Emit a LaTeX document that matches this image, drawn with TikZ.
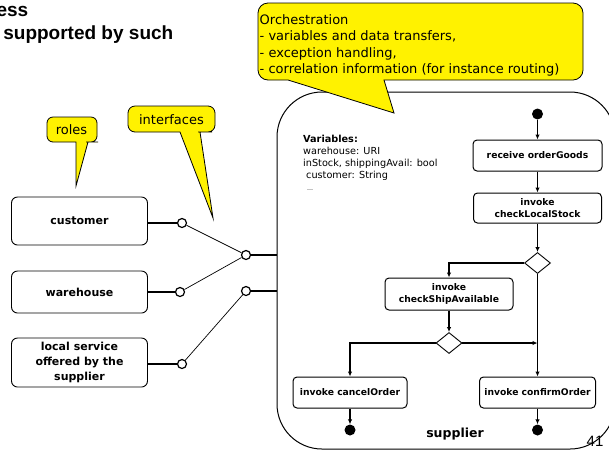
\documentclass[tikz,border=0pt]{standalone}
\usepackage{fontspec}
\setmainfont{DejaVu Sans}
\newfontfamily\headfont{Liberation Sans}
\usetikzlibrary{shapes.geometric,arrows.meta}
\begin{document}
\begin{tikzpicture}[x=1pt,y=-1pt,
  rolebox/.style={draw, rounded corners=6pt, line width=0.9pt, minimum width=136pt, inner sep=0pt,
    font=\fontsize{11}{15}\selectfont\bfseries, align=center},
  port/.style={circle, draw, fill=white, line width=1.2pt, minimum size=9pt, inner sep=0pt},
  act/.style={draw, rounded corners=4pt, line width=1pt, inner sep=0pt,
    font=\fontsize{9.2}{12.5}\selectfont\bfseries, align=center},
  choice/.style={diamond, draw, fill=white, line width=0.9pt, minimum width=26pt, minimum height=21pt, inner sep=0pt},
  dot/.style={circle, fill=black, minimum size=11pt, inner sep=0pt},
  flow/.style={line width=1.1pt, -{Latex[length=5pt,width=4.5pt]}},
  wire/.style={line width=0.7pt},
  plug/.style={line width=1.8pt},
  callout/.style={draw, fill=yellow, line width=0.8pt},
  note/.style={font=\fontsize{13}{16.5}\selectfont, inner sep=0pt},
  head/.style={font=\headfont\fontsize{19}{23}\selectfont\bfseries, inner sep=0pt, anchor=base east}
]
\useasboundingbox (0,0) rectangle (609,451);
\clip (0,0) rectangle (609,451);

% title fragments
\node[head] (h1) at (28.5,16) {ess};
\node[head] (h2) at (173.5,39.5) {supported by such};

% the supplier process
\node[draw, line width=1pt, rounded corners=45pt, minimum width=338pt, minimum height=357pt] (sup) at (446,270.5) {};
\node[font=\fontsize{12.5}{14}\selectfont\bfseries, inner sep=0pt] (suplabel) at (455,434) {supplier};

\node[anchor=north west, align=left, inner sep=0pt, font=\fontsize{9.7}{12}\selectfont] (vars) at (303,135.3)
  {\textbf{Variables:}\\warehouse: URI\\inStock, shippingAvail: bool\\\hspace{3pt}customer: String\\\hspace{4pt}{\fontsize{6}{6}\selectfont …}};

% activity flow
\node[dot] (start) at (537.5,114) {};
\node[act, minimum width=129pt, minimum height=31pt] (recv) at (537.5,155.5) {receive orderGoods};
\node[act, minimum width=128pt, minimum height=30pt] (check) at (537.5,208) {invoke\\checkLocalStock};
\node[choice] (d1) at (537.5,263) {};
\node[act, minimum width=128pt, minimum height=32pt] (ship) at (449,294) {invoke\\checkShipAvailable};
\node[choice] (d2) at (449,343) {};
\coordinate (j) at (537.5,343);
\node[act, minimum width=114pt, minimum height=31pt] (cancel) at (350,392.5) {invoke cancelOrder};
\node[act, minimum width=116pt, minimum height=31pt] (confirm) at (537.5,392.5) {invoke confirmOrder};
\node[dot] (end1) at (350,430) {};
\node[dot] (end2) at (537.5,430) {};

\draw[flow] (start) -- (recv);
\draw[flow] (recv) -- (check);
\draw[flow] (check) -- (d1);
\draw[flow] (d1.west) -| (ship.north);
\draw[flow] (d1.south) -- (confirm.north);
\draw[flow] (ship) -- (d2);
\draw[flow] (d2.east) -- (j);
\draw[flow] (d2.west) -| (cancel.north);
\draw[flow] (cancel) -- (end1);
\draw[flow] (confirm) -- (end2);

% roles and their interfaces
\node[rolebox, minimum height=48pt] (cust) at (79.5,221) {customer};
\node[rolebox, minimum height=42pt] (wh) at (79.5,292) {warehouse};
\node[rolebox, minimum height=49pt] (loc) at (79.5,362.5) {local service\\offered by the\\supplier};
\node[port] (pc) at (182,223) {};
\node[port] (pw) at (180,292) {};
\node[port] (pl) at (182,364) {};
\node[port] (pa) at (246,255) {};
\node[port] (pb) at (246,291) {};

\draw[plug] (pc -| cust.east) -- (pc);
\draw[plug] (pw -| wh.east) -- (pw);
\draw[plug] (pl -| loc.east) -- (pl);
\draw[wire] (pc) -- (pa);
\draw[wire] (pw) -- (pa);
\draw[wire] (pl) -- (pb);
\draw[plug] (pa) -- (pa -| sup.west);
\draw[plug] (pb) -- (pb -| sup.west);

% callouts
\draw[callout] (300,3) [rounded corners=10pt] -- (583,3) -- (583,80) -- (420,80) [sharp corners] -- (384,80)
  -- (394,113) -- (288,80) -- (270,80) [rounded corners=10pt] -- (258,80) -- (258,3) -- cycle;
\node[note, anchor=north west, align=left] (orch) at (259.5,14)
  {Orchestration\\- variables and data transfers,\\- exception handling,\\- correlation information (for instance routing)};

\draw[callout] (60,117) [rounded corners=6pt] -- (97,117) -- (97,142) -- (92,142) [sharp corners] -- (88,142)
  -- (76,186) -- (76,142) -- (66,142) [rounded corners=6pt] -- (47,142) -- (47,117) -- cycle;
\node[note] (roles) at (71.5,130) {roles};

\draw[callout] (150,106) [rounded corners=7pt] -- (215,106) -- (215,132) -- (205,132) [sharp corners] -- (200,132)
  -- (213,218) -- (180,132) -- (170,132) [rounded corners=7pt] -- (128,132) -- (128,106) -- cycle;
\node[note] (ifaces) at (171.5,119.5) {interfaces};

% page number
\node[font=\headfont\fontsize{15}{15}\selectfont, inner sep=0pt] (pg) at (595,441) {41};
\end{tikzpicture}
\end{document}
